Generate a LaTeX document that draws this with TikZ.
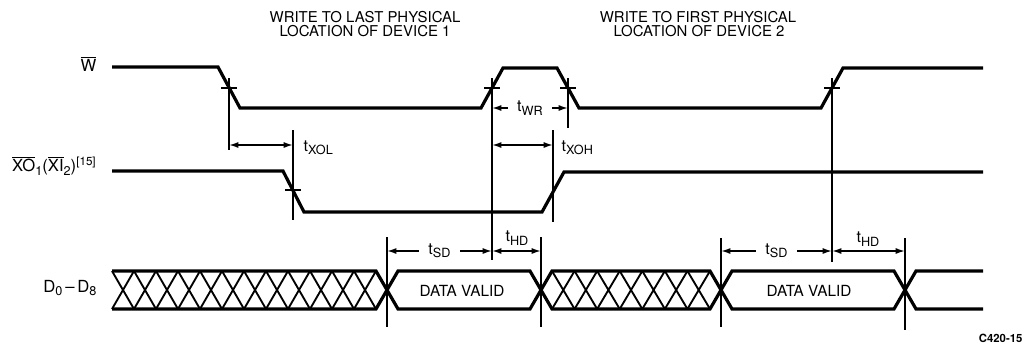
\documentclass[tikz,border=0pt]{standalone}
\usepackage{fontspec}
\setmainfont{TeX Gyre Heros}
\usetikzlibrary{arrows.meta}

\newcommand{\lowtxt}[1]{\raisebox{-0.45ex}{\fontsize{9.5}{10}\selectfont #1}}
\newcommand{\tsub}[1]{{\fontsize{12}{12}\selectfont t}\lowtxt{#1}}

\begin{document}
\begin{tikzpicture}[x=0.75pt, y=-0.75pt,
    every node/.style={font=\fontsize{11}{10}\selectfont, inner sep=1pt},
    sig/.style={line width=2.4pt, line join=miter},
    hatch/.style={line width=1.4pt},
    guide/.style={line width=1.5pt},
    dim/.style={line width=1.2pt, {Latex[length=7pt,width=4.5pt]}-{Latex[length=7pt,width=4.5pt]}},
    gap/.style={fill=white, inner xsep=7pt},
    heading/.style={font=\fontsize{11.2}{12}\selectfont, inner sep=0pt},
    signame/.style={anchor=east, font=\fontsize{12.5}{12}\selectfont}]
    \useasboundingbox (0,0) rectangle (1027,347);

    % headings
    \node[heading] (ttl1a) at (365,17) {WRITE TO LAST PHYSICAL};
    \node[heading] (ttl1b) at (365,31) {LOCATION OF DEVICE 1};
    \node[heading] (ttl2a) at (698,17) {WRITE TO FIRST PHYSICAL};
    \node[heading] (ttl2b) at (699,31) {LOCATION OF DEVICE 2};

    % signal names
    \node[signame] (lw) at (98,64) {$\overline{\mbox{W}}$};
    \node[signame] (lxo) at (98,166) {$\overline{\mbox{XO}}$\lowtxt{1}($\overline{\mbox{XI}}$\lowtxt{2})\textsuperscript{[15]}};
    \node[signame] (ld) at (98,288) {D\lowtxt{0}\,--\,D\lowtxt{8}};

    % time marks
    \coordinate (w1) at (229,88);
    \coordinate (w2) at (492,88);
    \coordinate (w3) at (568,88);
    \coordinate (w4) at (832,88);
    \coordinate (x1) at (293,190);
    \coordinate (x2) at (553,192);
    \coordinate (d1) at (387,290);
    \coordinate (d2) at (541,290);
    \coordinate (d3) at (721,290);
    \coordinate (d4) at (905,290);
    % arrow levels
    \coordinate (yA) at (0,108);
    \coordinate (yB) at (0,145);
    \coordinate (yC) at (0,251);

    % W
    \draw[sig] (112,67) -- (218,67) -- (240,108) -- (481,108) -- (503,68) -- (557,68)
        -- (579,108) -- (821,108) -- (843,68) -- (983,68);
    % XO
    \draw[sig] (112,171) -- (283,171) -- (304,212) -- (542,212) -- (564,172) -- (983,172);

    % data bus
    \draw[sig] (112,271) -- (376,271) -- (398,309) -- (530,309) -- (552,271) -- (710,271)
        -- (732,309) -- (894,309) -- (916,271) -- (983,271);
    \draw[sig] (112,309) -- (376,309) -- (398,271) -- (530,271) -- (552,309) -- (710,309)
        -- (732,271) -- (894,271) -- (916,309) -- (983,309);
    \foreach \a/\b/\n in {112/376/12, 552/710/7} {
        \pgfmathsetmacro{\p}{(\b-\a)/\n}
        \foreach \i in {1,...,\n} {
            \draw[hatch] (\a+\p*\i-\p,271) -- (\a+\p*\i,309) (\a+\p*\i-\p,309) -- (\a+\p*\i,271);
        }
    }
    \node (dv1) at (462,291) {\fontsize{11.5}{12}\selectfont DATA VALID};
    \node (dv2) at (809,291) {\fontsize{11.5}{12}\selectfont DATA VALID};

    % guide lines and ticks
    \foreach \c/\t/\b in {w1/78/150, x1/130/220, w2/78/260, w3/78/128, x2/130/222,
                          w4/78/262, d1/237/327, d2/237/327, d3/238/327, d4/238/330}
        \draw[guide] (\c |- 0,\t) -- (\c |- 0,\b);
    \foreach \c in {w1,w2,w3,w4,x1}
        \draw[guide] ([xshift=-6pt]\c) -- ([xshift=6pt]\c);

    % timing arrows
    \draw[dim] (w1 |- yB) -- (x1 |- yB);
    \node[anchor=west] (txol) at (302,148) {\tsub{XOL}};
    \draw[dim] (w2 |- yA) -- node[gap] (twr) {\tsub{WR}} (w3 |- yA);
    \draw[dim] (w2 |- yB) -- (x2 |- yB);
    \node[anchor=west] (txoh) at (560,148) {\tsub{XOH}};
    \draw[dim] (d1 |- yC) -- node[gap] (tsd1) {\tsub{SD}} (w2 |- yC);
    \draw[dim] (w2 |- yC) -- (d2 |- yC);
    \node (thd1) at (517,238) {\tsub{HD}};
    \draw[dim] (d3 |- yC) -- node[gap] (tsd2) {\tsub{SD}} (w4 |- yC);
    \draw[dim] (w4 |- yC) -- (d4 |- yC);
    \node (thd2) at (868,239) {\tsub{HD}};

    \node[anchor=east, font=\bfseries\fontsize{8.5}{10}\selectfont] (fig) at (1024,338) {C420-15};
\end{tikzpicture}
\end{document}
